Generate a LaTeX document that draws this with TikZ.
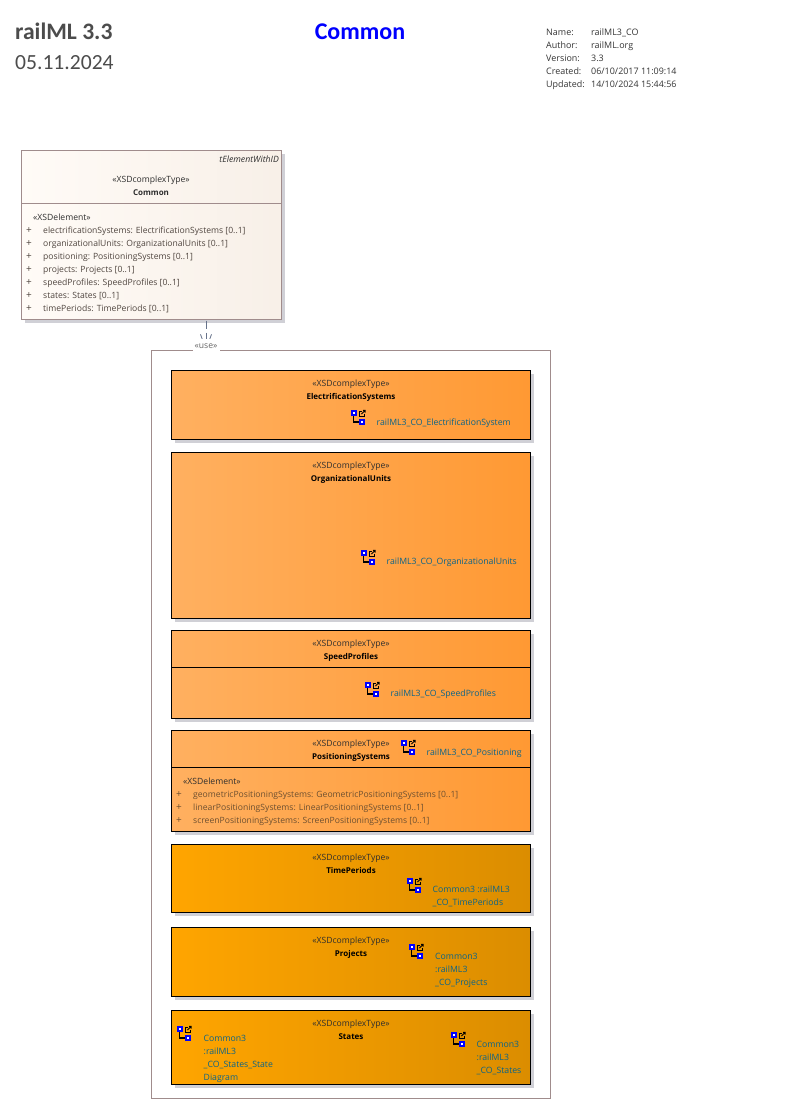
\documentclass[tikz,border=0pt]{standalone}
\usepackage{fontspec}
\setmainfont{Open Sans}
\newfontfamily\titlefont{Carlito}
\usetikzlibrary{arrows.meta,shadows,calc}
\definecolor{txt}{HTML}{2E2E2E}
\definecolor{attr}{HTML}{504640}
\definecolor{attrb}{HTML}{6E5030}
\definecolor{lnk}{HTML}{0B6488}
\definecolor{edge}{HTML}{A08C8C}
\definecolor{sh}{HTML}{D0D0D6}
\definecolor{conn}{HTML}{66728A}
\tikzset{
 x=1pt,y=-1pt,
 shad/.style={drop shadow={shadow xshift=3pt,shadow yshift=-3pt,fill=sh,opacity=1}},
 base/.style={rectangle,inner sep=0pt,outer sep=0pt,shad},
 cream/.style={base,draw=edge,line width=1pt,left color=white!60!orange!8,right color=orange!4!brown!12!white},
 light/.style={base,draw=black,line width=1pt,left color={rgb,255:red,255;green,176;blue,96},right color={rgb,255:red,255;green,153;blue,51}},
 dark/.style={base,draw=black,line width=1pt,left color={rgb,255:red,255;green,165;blue,0},middle color={rgb,255:red,250;green,162;blue,0},right color={rgb,255:red,219;green,141;blue,0}},
 t/.style={inner sep=0pt,anchor=base,yshift=-3pt,font=\fontsize{8.6}{13}\selectfont,text=txt},
 tb/.style={t,font=\fontsize{8}{13}\selectfont\bfseries,text=black},
 l/.style={t,anchor=base west,align=left},
 lk/.style={l,font=\fontsize{8.7}{13}\selectfont,text=lnk},
 meta/.style={l,yshift=-1pt,font=\fontsize{8.95}{13}\selectfont,text=black!80},
 sep/.style={line width=1pt},
}
\newcommand\umlbox[6]{\node[#6,minimum width=#4-#2,minimum height=#5-#3] (#1) at ({(#2+#4)/2},{(#3+#5)/2}) {};}
\newcommand\diagicon[3]{%
 \coordinate (#1) at (#2,#3);
 \draw[line width=1.2pt] ($(#1)+(2.8,4)$) -- ($(#1)+(2.8,12)$) -- ($(#1)+(9,12)$);
 \draw[blue,fill=white,line width=1.7pt] ($(#1)+(0.8,0.8)$) rectangle ($(#1)+(5.2,5.2)$);
 \draw[blue,fill=white,line width=1.7pt] ($(#1)+(8.8,9.8)$) rectangle ($(#1)+(13.2,14.2)$);
 \draw[black,line width=1pt] ($(#1)+(11,1.5)$) -- ($(#1)+(8.5,1.5)$) -- ($(#1)+(8.5,6.5)$) -- ($(#1)+(13.5,6.5)$) -- ($(#1)+(13.5,4)$);
 \draw[black,line width=1pt] ($(#1)+(10.5,4)$) -- ($(#1)+(14.2,0.3)$) ($(#1)+(12,0.3)$) -- ($(#1)+(14.2,0.3)$) -- ($(#1)+(14.2,2.5)$);
}
\begin{document}
\begin{tikzpicture}
\useasboundingbox (0,0) rectangle (801,1109);
% header
\node[anchor=base west,inner sep=0pt,text=black!70,font=\titlefont\fontsize{23.6}{24}\selectfont\bfseries] (title) at (15,39) {railML 3.3};
\node[anchor=base west,inner sep=0pt,text=black!70,font=\titlefont\fontsize{21.6}{24}\selectfont] (date) at (15,69) {05.11.2024};
\node[anchor=base,inner sep=0pt,text=blue,font=\titlefont\fontsize{24}{24}\selectfont\bfseries] (head) at (360,39) {Common};
\node[meta] (m1a) at (546,31.5) {Name:};      \node[meta] (m1b) at (591,31.5) {railML3\_CO};
\node[meta] (m2a) at (546,44.5) {Author:};    \node[meta] (m2b) at (591,44.5) {railML.org};
\node[meta] (m3a) at (546,57.5) {Version:};   \node[meta] (m3b) at (591,57.5) {3.3};
\node[meta] (m4a) at (546,70.5) {Created:};   \node[meta] (m4b) at (591,70.5) {06/10/2017 11:09:14};
\node[meta] (m5a) at (546,83.5) {Updated:};   \node[meta] (m5b) at (591,83.5) {14/10/2024 15:44:56};
% frame
\node[rectangle,draw=edge,line width=1pt,inner sep=0pt,minimum width=399pt,minimum height=748pt] (frame) at (351,724.5) {};
% Common
\umlbox{common}{21.5}{150.5}{281.5}{319.5}{cream}
\draw[edge,line width=1pt] (21.5,203.5) -- (281.5,203.5);
\node[t,anchor=base east,font=\fontsize{8.7}{13}\selectfont\itshape] (tel) at (279,159.5) {tElementWithID};
\node[t] (cs) at (151,179) {«XSDcomplexType»};
\node[tb,text=txt] (cn) at (151,192) {Common};
\node[l] (ce) at (33,217.5) {«XSDelement»};
\foreach \nm/\yy/\tx in {
 a/230.5/electrificationSystems: ElectrificationSystems [0..1],
 b/243.5/organizationalUnits: OrganizationalUnits [0..1],
 c/256.5/positioning: PositioningSystems [0..1],
 d/269.5/projects: Projects [0..1],
 e/282.5/speedProfiles: SpeedProfiles [0..1],
 f/295.5/states: States [0..1],
 g/308.5/timePeriods: TimePeriods [0..1]}{
 \node[l,text=attr,font=\fontsize{10}{13}\selectfont] (cp\nm) at (26,\yy) {+};
 \node[l,text=attr] (ca\nm) at (43,\yy) {\tx};
}
% use connector
\coordinate (us) at (206,320.5);
\coordinate (ue) at (206,350.5);
\draw[conn,line width=.9pt,dash pattern=on 8.5pt off 3.5pt,-{Straight Barb[length=15pt,width=11pt,line width=.8pt]}] (us) -- (ue);
\node[rectangle,fill=white,inner sep=0pt,minimum width=27pt,minimum height=13pt] (usebg) at (206.5,345.5) {};
\node[t,text=black!60] (use) at (206,345) {«use»};
% ES
\umlbox{es}{171.5}{370.5}{530.5}{439.5}{light}
\node[t] at (351,383) (es1) {«XSDcomplexType»};
\node[tb] at (351,396) (es2) {ElectrificationSystems};
\diagicon{ies}{351}{410}
\node[lk] at (376.5,422) (es3) {railML3\_CO\_ElectrificationSystem};
% OU
\umlbox{ou}{171.5}{452.5}{530.5}{618.5}{light}
\node[t] at (351,465) (ou1) {«XSDcomplexType»};
\node[tb] at (351,478) (ou2) {OrganizationalUnits};
\diagicon{iou}{361}{550}
\node[lk] at (386.5,561) (ou3) {railML3\_CO\_OrganizationalUnits};
% SP
\umlbox{sp}{171.5}{630.5}{530.5}{718.5}{light}
\draw[sep] (171.5,667.5) -- (530.5,667.5);
\node[t] at (351,643) (sp1) {«XSDcomplexType»};
\node[tb] at (351,656) (sp2) {SpeedProfiles};
\diagicon{isp}{365}{682}
\node[lk] at (390.5,693) (sp3) {railML3\_CO\_SpeedProfiles};
% PS
\umlbox{ps}{171.5}{730.5}{530.5}{831.5}{light}
\draw[sep] (171.5,767.5) -- (530.5,767.5);
\node[t] at (351,743) (ps1) {«XSDcomplexType»};
\node[tb] at (351,756) (ps2) {PositioningSystems};
\diagicon{ips}{401}{740}
\node[lk] at (426.5,752) (ps3) {railML3\_CO\_Positioning};
\node[l] at (183,781.5) (pe) {«XSDelement»};
\foreach \nm/\yy/\tx in {
 a/794.5/geometricPositioningSystems: GeometricPositioningSystems [0..1],
 b/807.5/linearPositioningSystems: LinearPositioningSystems [0..1],
 c/820.5/screenPositioningSystems: ScreenPositioningSystems [0..1]}{
 \node[l,text=attrb,font=\fontsize{10}{13}\selectfont] (pp\nm) at (176,\yy) {+};
 \node[l,text=attrb] (pa\nm) at (193,\yy) {\tx};
}
% TP
\umlbox{tp}{171.5}{844.5}{530.5}{912.5}{dark}
\node[t] at (351,857) (tp1) {«XSDcomplexType»};
\node[tb] at (351,870) (tp2) {TimePeriods};
\diagicon{itp}{407}{878}
\node[lk] at (432.5,889.5) (tp3) {Common3 :railML3};
\node[lk] at (432.5,902.5) (tp4) {\_CO\_TimePeriods};
% Projects
\umlbox{pj}{171.5}{927.5}{530.5}{996.5}{dark}
\node[t] at (351,940) (pj1) {«XSDcomplexType»};
\node[tb] at (351,953) (pj2) {Projects};
\diagicon{ipj}{409}{944}
\node[lk] at (435,956.5) (pj3) {Common3};
\node[lk] at (435,969) (pj4) {:railML3};
\node[lk] at (435,982) (pj5) {\_CO\_Projects};
% States
\umlbox{st}{171.5}{1010.5}{530.5}{1084.5}{dark}
\node[t] at (351,1023) (st1) {«XSDcomplexType»};
\node[tb] at (351,1036) (st2) {States};
\diagicon{ist}{177}{1026}
\node[lk] at (203.5,1038) (st3) {Common3};
\node[lk] at (203.5,1051) (st4) {:railML3};
\node[lk] at (203.5,1064) (st5) {\_CO\_States\_State};
\node[lk] at (203.5,1077) (st6) {Diagram};
\diagicon{ist2}{451}{1032}
\node[lk] at (476.5,1044) (st7) {Common3};
\node[lk] at (476.5,1057) (st8) {:railML3};
\node[lk] at (476.5,1070) (st9) {\_CO\_States};
\end{tikzpicture}
\end{document}
